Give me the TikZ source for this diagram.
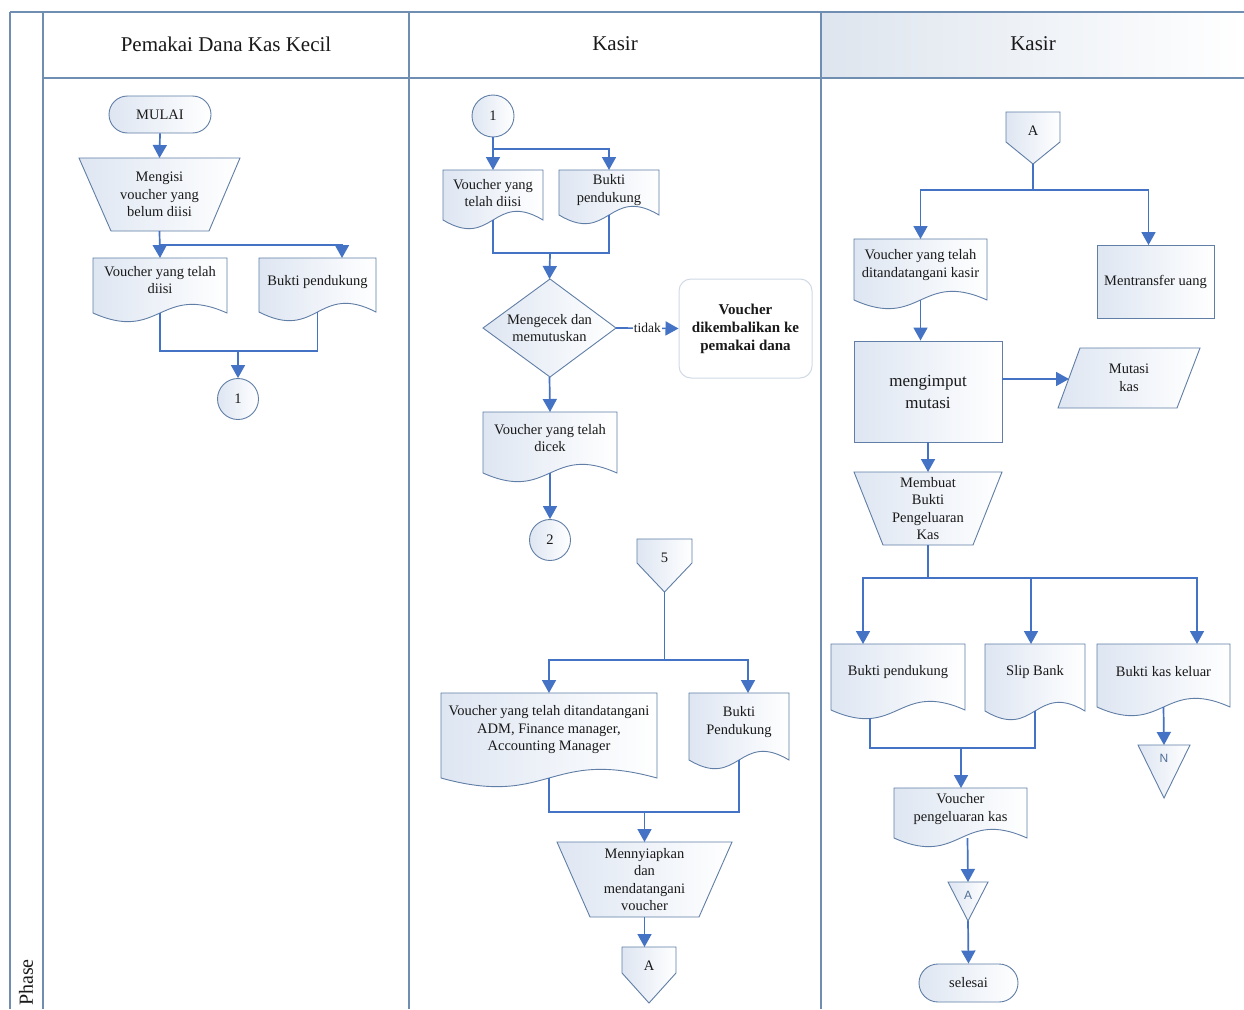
\documentclass[tikz,border=0pt]{standalone}
\usepackage{fontspec}
\setmainfont{Liberation Serif}
\newfontfamily\sansf{Liberation Sans}
\usetikzlibrary{arrows.meta,calc}
\definecolor{laneline}{RGB}{112,142,178}
\definecolor{shapeline}{RGB}{96,126,166}
\definecolor{arrowblue}{RGB}{68,114,196}
\definecolor{shadeA}{RGB}{222,230,242}
\definecolor{hdrgray}{RGB}{222,229,238}
\definecolor{boxline}{RGB}{208,218,230}
\definecolor{txtc}{RGB}{25,25,25}
\definecolor{tritxt}{RGB}{80,110,150}
\tikzset{
 lane/.style={draw=laneline, line width=1.3pt},
 shp/.style={draw=shapeline, line width=0.9pt, left color=shadeA, right color=white},
 anch/.style={inner sep=0pt, outer sep=0pt, draw=none},
 txt/.style={inner sep=0pt, align=center, text=txtc, font=\fontsize{14.5}{17.5}\selectfont},
 hdr/.style={inner sep=0pt, text=txtc, font=\fontsize{21}{24}\selectfont},
 tritext/.style={inner sep=0pt, text=tritxt, font=\sansf\fontsize{12}{14}\selectfont},
 conn/.style={draw=arrowblue, line width=1.7pt},
 arr/.style={conn, -{Triangle[width=14pt,length=13pt]}},
}
% document shape: name, x0, y0, x1, ybottom, text y, text
\newcommand\docshape[7]{%
 \path[shp] (#2,#3) -- (#4,#3) -- (#4,#5) .. controls ({(#2+#4)/2},{#5-30}) and ({(#2+#4)/2},{#5+30}) .. (#2,#5) -- cycle;
 \node[anch, minimum width={(#4-#2)*1pt}, minimum height={(#5-#3)*1pt}] (#1) at ({(#2+#4)/2},{(#3+#5)/2}) {};
 \node[txt] (#1-t) at ({(#2+#4)/2},#6) {#7};
}
% manual operation: name, xtl, xtr, ytop, xbl, xbr, ybot, text
\newcommand\trapshape[8]{%
 \path[shp] (#2,#4) -- (#3,#4) -- (#6,#7) -- (#5,#7) -- cycle;
 \node[txt, anch, minimum width={(#3-#2)*1pt}, minimum height={(#7-#4)*1pt}] (#1) at ({(#2+#3)/2},{(#4+#7)/2}) {#8};
}
% off-page connector: name, x0, x1, ytop, yside, ytip, text
\newcommand\offpage[7]{%
 \path[shp] (#2,#4) -- (#3,#4) -- (#3,#5) -- ({(#2+#3)/2},#6) -- (#2,#5) -- cycle;
 \node[anch, minimum width={(#3-#2)*1pt}, minimum height={(#6-#4)*1pt}] (#1) at ({(#2+#3)/2},{(#4+#6)/2}) {};
 \node[txt] (#1-t) at ({(#2+#3)/2},{#4+19}) {#7};
}
% triangle: name, x0, x1, ytop, ytip, text
\newcommand\trishape[6]{%
 \path[shp] (#2,#4) -- (#3,#4) -- ({(#2+#3)/2},#5) -- cycle;
 \node[anch, minimum width={(#3-#2)*1pt}, minimum height={(#5-#4)*1pt}] (#1) at ({(#2+#3)/2},{(#4+#5)/2}) {};
 \node[tritext] (#1-t) at ({(#2+#3)/2},{#4+13}) {#6};
}
\begin{document}
\begin{tikzpicture}[x=1pt,y=-1pt]
\useasboundingbox (0,0) rectangle (1244,1009);
\fill[white] (0,0) rectangle (1244,1009);
% swimlane frame
\fill[left color=hdrgray, right color=white] (821,12) rectangle (1244,78);
\draw[lane] (10,12) -- (1244,12);
\draw[lane] (10,12) -- (10,1009);
\draw[lane] (43,12) -- (43,1009);
\draw[lane] (43,78) -- (1244,78);
\draw[lane] (409,12) -- (409,1009);
\draw[lane] (821,12) -- (821,1009);
\node[hdr] (h1) at (226,44) {Pemakai Dana Kas Kecil};
\node[hdr] (h2) at (615,44) {Kasir};
\node[hdr] (h3) at (1033,44) {Kasir};
\node[hdr, font=\fontsize{20}{22}\selectfont, rotate=90, anchor=west] (ph) at (26,1006) {Phase};

% ---------- lane 1 ----------
\node[txt, shp, rounded corners=18.5pt, minimum width=102pt, minimum height=37pt] (m1) at (160,114.5) {MULAI};
\trapshape{t1}{79}{240}{158}{111}{209}{231}{Mengisi\\voucher yang\\belum diisi}
\docshape{d1a}{93}{258}{227}{313}{280}{Voucher yang telah\\diisi}
\docshape{d1b}{259}{258}{376}{312}{282}{Bukti pendukung}
\node[txt, shp, circle, minimum size=41pt] (c1) at (238,399) {1};

\draw[arr] (m1.south) -- (t1.north);
\coordinate (j1) at (160,245);
\draw[arr] (t1.south) -- (d1a.north);
\draw[arr] (j1) -| ([xshift=24.5pt]d1b.north);
\coordinate (j2) at (238,351);
\draw[conn] (d1a.south) |- (j2) -| (d1b.south);
\draw[arr] (j2) -- (c1.north);

% ---------- lane 2 ----------
\node[txt, shp, circle, minimum size=42pt] (c2) at (493,116) {1};
\docshape{d2a}{443}{170}{543}{220}{193}{Voucher yang\\telah diisi}
\docshape{d2b}{559}{170}{659}{215}{190}{Bukti\\pendukung}
\path[shp] (550,279) -- (616,328) -- (550,377) -- (483,328) -- cycle;
\node[txt, anch, minimum width=133pt, minimum height=98pt] (dm) at (549.5,328) {Mengecek dan\\memutuskan};
\node[txt, font=\bfseries\fontsize{15}{18}\selectfont, draw=boxline, line width=1pt, rounded corners=12pt, fill=white, minimum width=133pt, minimum height=99pt] (bx) at (745.5,328.5) {Voucher\\dikembalikan ke\\pemakai dana};
\docshape{d2c}{483}{412}{617}{473}{438}{Voucher yang telah\\dicek}
\node[txt, shp, circle, minimum size=41pt] (c3) at (550,540) {2};
\offpage{op5}{637}{692}{539}{563}{592}{5}
\docshape{d2d}{441}{693}{657}{778}{730}{Voucher yang telah ditandatangani\\ADM, Finance manager,\\Accounting Manager}
\docshape{d2e}{689}{693}{789}{760}{722}{Bukti\\Pendukung}
\trapshape{t2}{557}{732}{842}{590}{699}{917}{Mennyiapkan\\dan\\mendatangani\\voucher}
\offpage{opA1}{622}{676}{947}{973}{1003}{A}

\coordinate (j3) at (493,149);
\draw[arr] (c2.south) -- (d2a.north);
\draw[arr] (j3) -| (d2b.north);
\coordinate (j4) at (550,253);
\draw[conn] (d2a.south) |- (j4) -| (d2b.south);
\draw[arr] (j4) -- (dm.north);
\draw[arr] (dm.east) -- node[txt, fill=white, inner sep=1pt, font=\fontsize{13.5}{15}\selectfont] (tdk) {tidak} (bx.west);
\draw[arr] (dm.south) -- (d2c.north);
\draw[arr] (d2c.south) -- (c3.north);
\coordinate (j5) at (664.5,660);
\draw[conn] (op5.south) -- (j5);
\draw[arr] (j5) -| (d2d.north);
\draw[arr] (j5) -| ([xshift=9pt]d2e.north);
\coordinate (j6) at (644.5,812);
\draw[conn] (d2d.south) |- (j6) -| (d2e.south);
\draw[arr] (j6) -- (t2.north);
\draw[arr] (t2.south) -- (t2.south |- opA1.north);

% ---------- lane 3 ----------
\offpage{opA2}{1006}{1060}{112}{142}{164}{A}
\docshape{d3a}{854}{239}{987}{300}{265}{Voucher yang telah\\ditandatangani kasir}
\node[txt, shp, minimum width=117pt, minimum height=73pt] (r3a) at (1155.5,282) {Mentransfer uang};
\node[txt, shp, font=\fontsize{17}{22}\selectfont, minimum width=148pt, minimum height=101pt] (r3b) at (928,391.5) {mengimput\\mutasi};
\path[shp] (1080,348) -- (1200,348) -- (1177,408) -- (1058,408) -- cycle;
\node[txt, anch, minimum width=142pt, minimum height=60pt] (pg) at (1129,378) {Mutasi\\kas};
\coordinate (pgin) at (1069,379);
\trapshape{t3}{854}{1002}{472}{883}{973}{545}{Membuat\\Bukti\\Pengeluaran\\Kas}
\docshape{d3b}{831}{644}{965}{710}{672}{Bukti pendukung}
\docshape{d3c}{985}{644}{1085}{711}{672}{Slip Bank}
\docshape{d3d}{1097}{644}{1230}{707}{672}{Bukti kas keluar}
\trishape{trN}{1138}{1190}{745}{798}{N}
\docshape{d3e}{894}{788}{1027}{838}{809}{Voucher\\pengeluaran kas}
\trishape{trA}{948}{988}{882}{921}{A}
\node[txt, shp, rounded corners=19pt, minimum width=99pt, minimum height=38pt] (sel) at (968.5,983) {selesai};

\coordinate (j7) at (1033,190);
\draw[conn] (opA2.south) -- (j7);
\draw[arr] (j7) -| (d3a.north);
\draw[arr] (j7) -| ([xshift=-7pt]r3a.north);
\draw[arr] (d3a.south) -- (d3a.south |- r3b.north);
\draw[arr] (r3b.east |- pgin) -- (pgin);
\draw[arr] (r3b.south) -- (t3.north);
\coordinate (j8) at (928,578);
\draw[conn] (t3.south) -- (j8);
\draw[arr] (j8) -| ([xshift=-35pt]d3b.north);
\draw[arr] (j8) -| ([xshift=-4pt]d3c.north);
\draw[arr] (j8) -| ([xshift=33.5pt]d3d.north);
\coordinate (d3bout) at (870,718);
\coordinate (j9) at (961,748);
\draw[conn] (d3bout) |- (j9) -| (d3c.south);
\draw[arr] (j9) -- (j9 |- d3e.north);
\draw[arr] (d3d.south) -- (trN.north);
\draw[arr] ([xshift=7pt]d3e.south) -- (trA.north);
\draw[arr] (trA.south) -- (sel.north);
\end{tikzpicture}
\end{document}
